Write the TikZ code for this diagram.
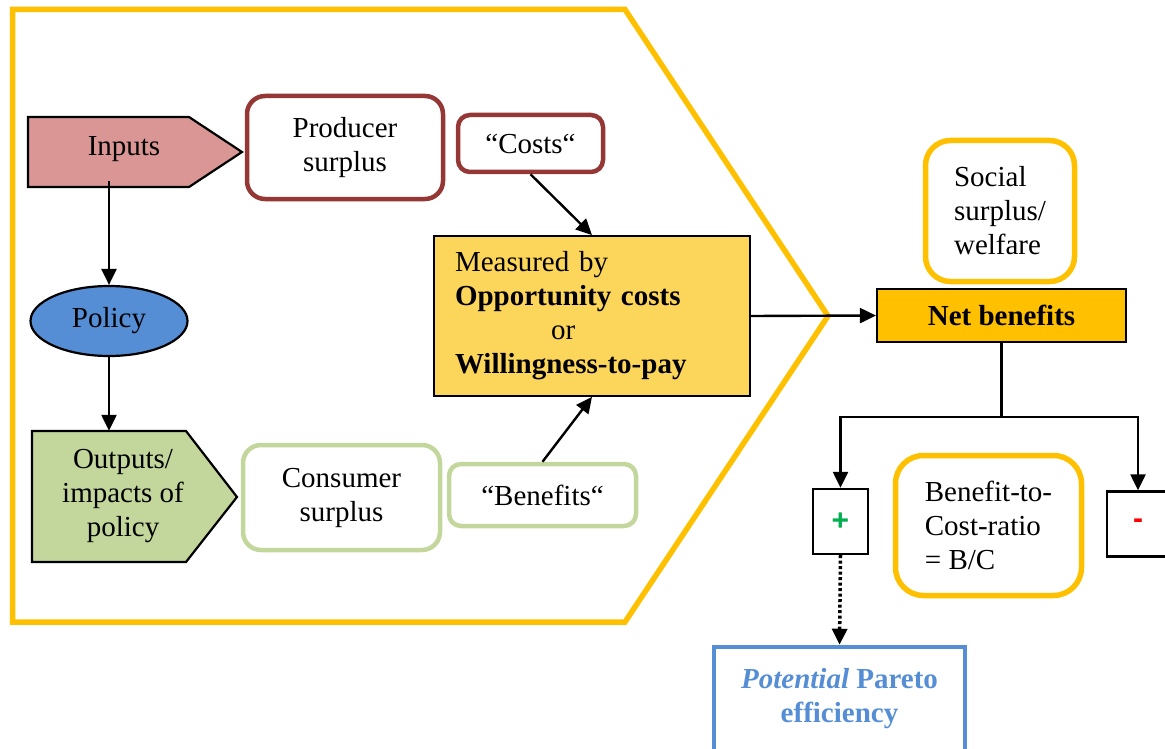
\documentclass[tikz,border=0pt]{standalone}
\usepackage{fontspec}
\setmainfont{Liberation Serif}
\newfontfamily\signfont{Liberation Sans}
\usetikzlibrary{arrows.meta,shapes.geometric}

\definecolor{frameyellow}{HTML}{FFC000}
\definecolor{inputred}{HTML}{D99694}
\definecolor{darkred}{HTML}{953735}
\definecolor{policyblue}{HTML}{558ED5}
\definecolor{outgreen}{HTML}{C3D69B}
\definecolor{measureyellow}{HTML}{FCD55B}
\definecolor{plusgreen}{HTML}{00B050}
\definecolor{minusred}{HTML}{FF0000}

\tikzset{
  flow/.style={line width=2.4pt, -{Triangle[length=16pt,width=15pt]}},
  plainline/.style={line width=2.4pt},
  rbox/.style={draw, fill=white, inner sep=0pt, align=center},
  redbox/.style={rbox, draw=darkred, line width=4.5pt},
  greenbox/.style={rbox, draw=outgreen, line width=4.5pt},
  yellowbox/.style={rbox, draw=frameyellow, line width=5.5pt, align=left},
  signbox/.style={draw, line width=2.4pt, fill=white, inner sep=0pt,
                  minimum height=65pt, font=\fontsize{30}{34}\signfont\bfseries},
  arrowshape/.style={draw, line width=2.2pt, line join=miter}
}

\begin{document}
\begin{tikzpicture}[x=1pt, y=-1pt, font=\fontsize{29}{34}\selectfont]
\useasboundingbox (0,0) rectangle (1165,749);

% outer frame
\draw[frameyellow, line width=5.5pt, line join=miter]
  (12.5,9.5) -- (625,9.5) -- (828,316) -- (625,622) -- (12.5,622) -- cycle;

% pentagon arrows on the left
\filldraw[arrowshape, fill=inputred]
  (28,117) -- (189,117) -- (242,152) -- (189,187) -- (28,187) -- cycle;
\node[inner sep=0pt, minimum height=64pt] (inputs) at (124,149) {Inputs};

\filldraw[arrowshape, fill=outgreen]
  (32,431) -- (186,431) -- (237,497) -- (186,562) -- (32,562) -- cycle;
\node[inner sep=0pt, minimum height=131pt, align=center] (outputs) at (123,496.5)
  {Outputs/\\impacts of\\policy};

\node[ellipse, draw, line width=2.2pt, fill=policyblue, inner sep=0pt,
      minimum width=157pt, minimum height=70pt] (policy) at (109,321) {Policy};

% surplus boxes
\node[redbox, rounded corners=18pt, minimum width=196pt, minimum height=103pt]
  (producer) at (345,147.5) {Producer\\surplus};
\node[redbox, rounded corners=12pt, minimum width=145pt, minimum height=57pt]
  (costs) at (530.5,143.5) {“Costs“};
\node[greenbox, rounded corners=18pt, minimum width=197pt, minimum height=105pt]
  (consumer) at (341.5,497.5) {Consumer\\surplus};
\node[greenbox, rounded corners=12pt, minimum width=187pt, minimum height=62pt]
  (benefits) at (542.5,495) {“Benefits“};

% measurement box
\node[draw, line width=1.8pt, fill=measureyellow, inner sep=0pt,
      minimum width=316pt, minimum height=160pt, text width=274pt, align=left]
  (measure) at (592,316)
  {Measured by\\
   \textbf{Opportunity costs}\\
   \hspace*{96pt}or\\
   \textbf{Willingness-to-pay}};

% right-hand side
\node[yellowbox, rounded corners=25pt, minimum width=149pt, minimum height=141pt]
  (social) at (1000,211) {Social\\surplus/\\welfare};
\node[draw, line width=2.2pt, fill=frameyellow, inner sep=0pt,
      minimum width=249pt, minimum height=53pt, font=\fontsize{29}{34}\selectfont\bfseries]
  (net) at (1001.5,315.5) {Net benefits};

\node[signbox, minimum width=55pt] (plus) at (840.5,521.5) {\color{plusgreen}+};
\node[signbox, minimum width=62pt] (minus) at (1138,524) {\color{minusred}-};

\node[yellowbox, rounded corners=28pt, minimum width=186pt, minimum height=140pt]
  (ratio) at (988.5,525.5) {Benefit-to-\\Cost-ratio\\= B/C};

\node[rbox, draw=policyblue, line width=4.5pt, text=policyblue,
      minimum width=251pt, minimum height=104pt,
      font=\fontsize{29}{34}\selectfont\bfseries]
  (pareto) at (839.5,699) {\textit{Potential} Pareto\\efficiency};

% connectors
\draw[flow] (policy.north |- inputs.south) -- (policy.north);
\draw[flow] (policy.south) -- (policy.south |- outputs.north);
\draw[flow] (costs.south) -- (measure.north);
\draw[flow] (benefits.north) -- (measure.south);
\draw[flow] (measure.east) -- (net.west);
\draw[plainline] (net.south) -- ++(0,74) coordinate (fork);
\draw[flow] (fork) -| (plus.north);
\draw[flow] (fork) -| (minus.north);
\draw[flow, line width=3.5pt, dash pattern=on 3pt off 2.5pt] (plus.south) -- (pareto.north);
\end{tikzpicture}
\end{document}
